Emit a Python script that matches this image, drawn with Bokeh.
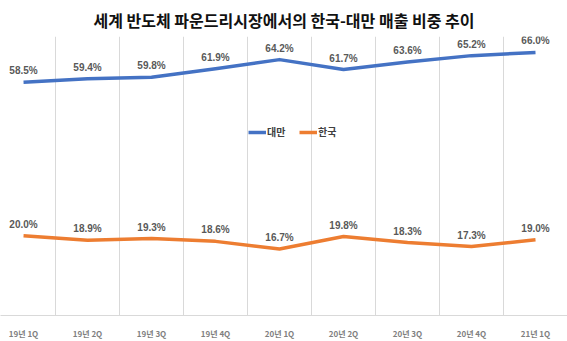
from bokeh.plotting import figure
from bokeh.models import ColumnDataSource, Range1d, FixedTicker, Legend, LegendItem
from bokeh.core.properties import value
from bokeh.embed import file_html
from bokeh.resources import INLINE

categories = ["19년 1Q", "19년 2Q", "19년 3Q", "19년 4Q", "20년 1Q", "20년 2Q", "20년 3Q", "20년 4Q", "21년 1Q"]
taiwan = [58.5, 59.4, 59.8, 61.9, 64.2, 61.7, 63.6, 65.2, 66.0]
korea = [20.0, 18.9, 19.3, 18.6, 16.7, 19.8, 18.3, 17.3, 19.0]
series_names = ["대만", "한국"]
title_text = "세계 반도체 파운드리시장에서의 한국-대만 매출 비중 추이"

BLUE = "#4472C4"
ORANGE = "#ED7D31"
GRAY = "#595959"
KR_FONT = "Noto Sans CJK KR"
NUM_FONT = "Liberation Sans"

xs = list(range(len(categories)))

p = figure(width=567, height=341, output_backend="svg", toolbar_location=None,
           x_range=Range1d(-0.36, 8.5), y_range=Range1d(0, 70),
           y_axis_location=None, title=title_text,
           min_border_left=0, min_border_right=0, min_border_top=35, min_border_bottom=24)

p.title.align = "center"
p.title.text_font = KR_FONT
p.title.text_font_size = "16px"
p.title.text_font_style = "bold"
p.title.text_color = "#111111"

p.outline_line_color = None
p.background_fill_color = "white"
p.border_fill_color = "white"

p.ygrid.grid_line_color = None
p.xgrid.ticker = FixedTicker(ticks=[i - 0.5 for i in range(len(categories) + 1)])
p.xgrid.grid_line_color = "#d9d9d9"
p.xgrid.grid_line_width = 1

p.xaxis.ticker = FixedTicker(ticks=xs)
p.xaxis.major_label_overrides = {i: c for i, c in enumerate(categories)}
p.xaxis.axis_line_color = "#d9d9d9"
p.xaxis.major_tick_line_color = None
p.xaxis.minor_tick_line_color = None
p.xaxis.major_label_standoff = 6
p.xaxis.major_label_text_font = KR_FONT
p.xaxis.major_label_text_font_size = "8px"
p.xaxis.major_label_text_font_style = "bold"
p.xaxis.major_label_text_color = "#7f7f7f"

src_tw = ColumnDataSource(dict(x=xs, y=taiwan, label=[f"{v:.1f}%" for v in taiwan]))
src_kr = ColumnDataSource(dict(x=xs, y=korea, label=[f"{v:.1f}%" for v in korea]))

r_tw = p.line("x", "y", source=src_tw, line_color=BLUE, line_width=3.5, line_join="round")
r_kr = p.line("x", "y", source=src_kr, line_color=ORANGE, line_width=3.5, line_join="round")

for src in (src_tw, src_kr):
    p.text("x", "y", text="label", source=src, y_offset=-6, text_align="center",
           text_baseline="bottom", text_font=value(NUM_FONT), text_font_style="bold",
           text_font_size=value("10px"), text_color=GRAY)

legend = Legend(items=[LegendItem(label=series_names[0], renderers=[r_tw]),
                       LegendItem(label=series_names[1], renderers=[r_kr])],
                orientation="horizontal", location=(248, 176),
                border_line_color=None, background_fill_alpha=0,
                label_text_font=KR_FONT, label_text_font_size="10px",
                label_text_font_style="bold",
                label_text_color="#404040", label_standoff=1,
                glyph_width=18, glyph_height=10, spacing=12, padding=0, margin=0)
p.add_layout(legend, "center")

open("out.html", "w").write(file_html(p, INLINE))
